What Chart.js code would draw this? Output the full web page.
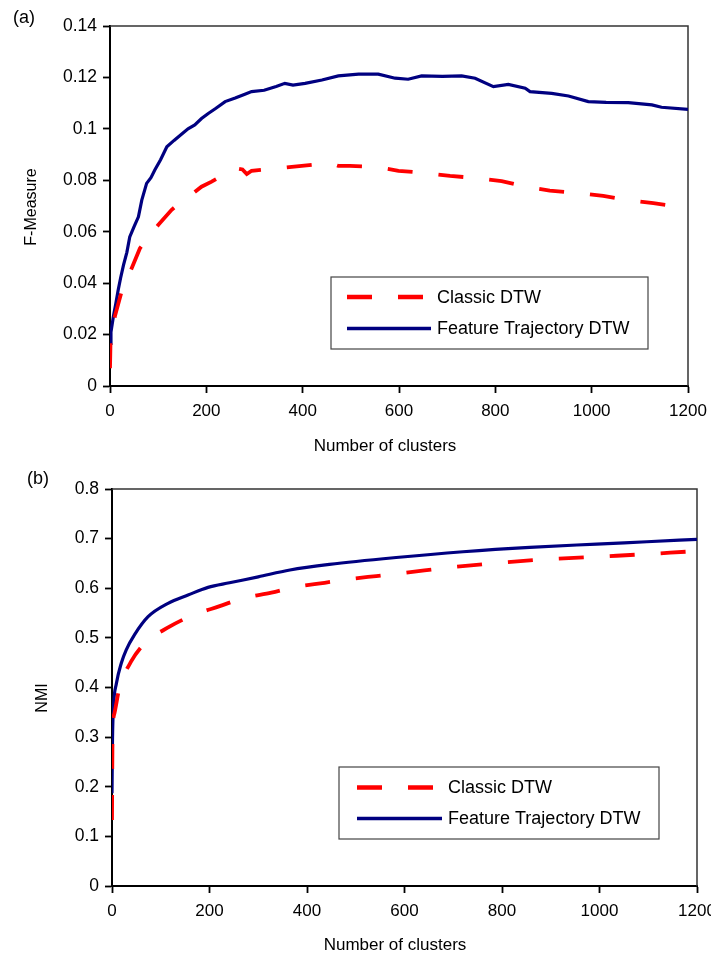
<!DOCTYPE html>
<html>
<head>
<meta charset="utf-8">
<script src="https://cdn.jsdelivr.net/npm/chart.js@4.4.1/dist/chart.umd.min.js"></script>
<style>
  html, body { margin: 0; padding: 0; background: #fff; }
  #wrap { position: relative; width: 711px; height: 954px; overflow: hidden; }
  canvas { position: absolute; left: 0; }
</style>
</head>
<body>
<div id="wrap">
  <canvas id="chartA" width="711" height="470" style="top:0"></canvas>
  <canvas id="chartB" width="711" height="484" style="top:470px"></canvas>
</div>
<script>
// ---------- data ----------
const seriesNames = ['Classic DTW', 'Feature Trajectory DTW'];
const panelLabels = ['(a)', '(b)'];
const yTitles = ['F-Measure', 'NMI'];
const xTitle = 'Number of clusters';

const xTickValues = [0, 200, 400, 600, 800, 1000, 1200];
const xTickLabels = ['0', '200', '400', '600', '800', '1000', '1200'];
const yTickValuesA = [0, 0.02, 0.04, 0.06, 0.08, 0.1, 0.12, 0.14];
const yTickLabelsA = ['0', '0.02', '0.04', '0.06', '0.08', '0.1', '0.12', '0.14'];
const yTickValuesB = [0, 0.1, 0.2, 0.3, 0.4, 0.5, 0.6, 0.7, 0.8];
const yTickLabelsB = ['0', '0.1', '0.2', '0.3', '0.4', '0.5', '0.6', '0.7', '0.8'];

// (a) F-Measure
const classicA_x = [0, 1, 10, 24, 45, 62, 80, 100, 128, 150, 173, 190, 211, 235, 260, 275, 284, 294, 320, 353, 398, 430, 453, 474, 498, 557, 599, 661, 706, 765, 813, 868, 913, 972, 1024, 1076, 1128, 1200];
const classicA_y = [0.0069, 0.0166, 0.027, 0.0367, 0.0458, 0.0535, 0.058, 0.0626, 0.0685, 0.072, 0.075, 0.0775, 0.0795, 0.082, 0.0847, 0.0842, 0.0824, 0.0837, 0.0842, 0.0847, 0.0856, 0.0862, 0.0869, 0.0856, 0.0856, 0.0851, 0.0837, 0.0827, 0.0817, 0.0808, 0.0797, 0.0773, 0.076, 0.075, 0.0739, 0.0723, 0.0711, 0.0693];
const featureA_x = [0, 2, 7, 12, 17, 22, 28, 35, 41, 50, 59, 66, 76, 85, 93, 105, 118, 133, 149, 162, 176, 190, 204, 220, 239, 260, 280, 294, 320, 345, 363, 380, 405, 440, 474, 516, 557, 592, 619, 647, 690, 730, 758, 796, 827, 862, 872, 917, 952, 993, 1030, 1076, 1125, 1145, 1200];
const featureA_y = [0.0166, 0.021, 0.027, 0.032, 0.0373, 0.042, 0.047, 0.052, 0.058, 0.062, 0.0658, 0.0723, 0.0788, 0.081, 0.084, 0.088, 0.093, 0.0955, 0.098, 0.1, 0.1015, 0.104, 0.106, 0.108, 0.1106, 0.112, 0.1135, 0.1145, 0.115, 0.1165, 0.1177, 0.117, 0.1177, 0.119, 0.1206, 0.1213, 0.1213, 0.1197, 0.1193, 0.1206, 0.1204, 0.1206, 0.1197, 0.1164, 0.1173, 0.1158, 0.1145, 0.1138, 0.1128, 0.1106, 0.1103, 0.1102, 0.1093, 0.1084, 0.1076];

// (b) NMI
const classicB_x = [0, 1, 5, 15, 39, 67, 118, 162, 221, 269, 327, 378, 436, 484, 542, 600, 707, 871, 1035, 1145, 1200];
const classicB_y = [0.133, 0.294, 0.348, 0.398, 0.452, 0.489, 0.5225, 0.544, 0.564, 0.5797, 0.591, 0.603, 0.611, 0.618, 0.6246, 0.631, 0.6434, 0.657, 0.6655, 0.6716, 0.675];
const featureB_x = [0, 1, 3, 9, 19, 29, 46, 74, 115, 156, 197, 241, 300, 365, 446, 583, 720, 857, 994, 1097, 1200];
const featureB_y = [0.187, 0.294, 0.36, 0.408, 0.449, 0.4755, 0.506, 0.5426, 0.5696, 0.5863, 0.6018, 0.611, 0.623, 0.6367, 0.648, 0.662, 0.6736, 0.6825, 0.689, 0.6937, 0.6985];

// ---------- helpers ----------
const FONT = "'Liberation Sans', Arial, Helvetica, sans-serif";
const zip = (xs, ys) => xs.map((x, i) => ({ x: x, y: ys[i] }));

const decor = {
  id: 'decor',
  beforeDatasetsDraw(chart, args, o) {
    const { ctx, chartArea: a } = chart;
    ctx.save();
    ctx.strokeStyle = '#333';
    ctx.lineWidth = 1.5;
    ctx.beginPath();
    ctx.moveTo(a.left, a.top);
    ctx.lineTo(a.right, a.top);
    ctx.lineTo(a.right, a.bottom);
    ctx.stroke();
    ctx.restore();
  },
  afterDraw(chart, args, o) {
    const { ctx } = chart;
    ctx.save();
    ctx.fillStyle = '#000';
    for (const t of o.texts) {
      ctx.save();
      ctx.font = t.size + 'px ' + FONT;
      ctx.textAlign = 'center';
      ctx.textBaseline = 'middle';
      ctx.translate(t.x, t.y);
      if (t.rot) ctx.rotate(t.rot);
      ctx.fillText(t.text, 0, 0);
      ctx.restore();
    }
    const L = o.legend;
    ctx.fillStyle = '#fff';
    ctx.fillRect(L.x, L.y, L.w, L.h);
    ctx.strokeStyle = '#444';
    ctx.lineWidth = 1.2;
    ctx.strokeRect(L.x, L.y, L.w, L.h);
    chart.data.datasets.forEach((ds, i) => {
      const ry = L.rows[i];
      ctx.strokeStyle = ds.borderColor;
      ctx.lineWidth = ds.borderWidth + 0.5;
      ctx.setLineDash(ds.borderDash || []);
      ctx.beginPath();
      ctx.moveTo(L.lineX1, ry);
      ctx.lineTo(L.lineX2[i], ry);
      ctx.stroke();
      ctx.setLineDash([]);
      ctx.fillStyle = '#000';
      ctx.font = L.size + 'px ' + FONT;
      ctx.textAlign = 'left';
      ctx.textBaseline = 'middle';
      ctx.fillText(ds.label, L.textX, ry + 1);
    });
    ctx.restore();
  }
};

function makeChart(id, H, area, classic, feature, yMax, yVals, yLabels, texts, legend, tension) {
  const W = 711;
  return new Chart(document.getElementById(id), {
    type: 'line',
    data: {
      datasets: [
        { label: seriesNames[0], data: classic, borderColor: '#ff0000', borderWidth: 3.8,
          borderDash: [25, 26], pointRadius: 0, tension: 0, cubicInterpolationMode: tension ? 'monotone' : 'default',
          fill: false, borderCapStyle: 'butt' },
        { label: seriesNames[1], data: feature, borderColor: '#000080', borderWidth: 3.2,
          pointRadius: 0, tension: 0, cubicInterpolationMode: tension ? 'monotone' : 'default', fill: false }
      ]
    },
    options: {
      responsive: false,
      animation: false,
      events: [],
      parsing: true,
      layout: { padding: { left: 0, top: area.top, right: W - area.right, bottom: 0 } },
      plugins: {
        legend: { display: false },
        tooltip: { enabled: false },
        decor: { texts: texts, legend: legend }
      },
      scales: {
        x: {
          type: 'linear', min: 0, max: 1200,
          afterBuildTicks: s => { s.ticks = xTickValues.map(v => ({ value: v })); },
          afterFit: s => { s.height = H - area.bottom; s.paddingLeft = 0; s.paddingRight = 0; },
          ticks: { callback: (v, i) => xTickLabels[i], color: '#000', padding: 8, maxRotation: 0,
                   font: { family: FONT, size: 17 } },
          grid: { drawOnChartArea: false, drawTicks: true, tickLength: 7, tickWidth: 1.8, tickColor: '#000' },
          border: { display: true, color: '#000', width: 2 }
        },
        y: {
          type: 'linear', min: 0, max: yMax,
          afterBuildTicks: s => { s.ticks = yVals.map(v => ({ value: v })); },
          afterFit: s => { s.width = area.left; s.paddingTop = 0; s.paddingBottom = 0; },
          ticks: { callback: (v, i) => yLabels[i], color: '#000', padding: 6,
                   font: { family: FONT, size: 17.5 } },
          grid: { drawOnChartArea: false, drawTicks: true, tickLength: 7, tickWidth: 1.8, tickColor: '#000' },
          border: { display: true, color: '#000', width: 2 }
        }
      }
    },
    plugins: [decor]
  });
}

makeChart('chartA', 470, { left: 110, right: 688, top: 26, bottom: 386 },
  zip(classicA_x, classicA_y), zip(featureA_x, featureA_y),
  0.14, yTickValuesA, yTickLabelsA,
  [
    { text: panelLabels[0], x: 24, y: 18, size: 18 },
    { text: yTitles[0], x: 32, y: 207, size: 16, rot: -Math.PI / 2 },
    { text: xTitle, x: 385, y: 446, size: 17 }
  ],
  { x: 331, y: 277, w: 317, h: 72, rows: [297, 328.5], lineX1: 347, lineX2: [427, 431],
    textX: 437, size: 18 },
  false);

makeChart('chartB', 484, { left: 112, right: 697, top: 19, bottom: 416 },
  zip(classicB_x, classicB_y), zip(featureB_x, featureB_y),
  0.8, yTickValuesB, yTickLabelsB,
  [
    { text: panelLabels[1], x: 38, y: 9, size: 18 },
    { text: yTitles[1], x: 43, y: 228, size: 16, rot: -Math.PI / 2 },
    { text: xTitle, x: 395, y: 475, size: 17 }
  ],
  { x: 339, y: 297, w: 320, h: 72, rows: [317.5, 348.5], lineX1: 357, lineX2: [437, 442],
    textX: 448, size: 18 },
  true);
</script>
</body>
</html>
